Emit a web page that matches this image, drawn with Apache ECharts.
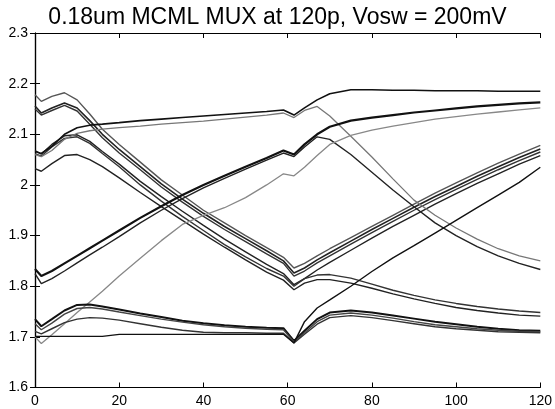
<!DOCTYPE html>
<html>
<head>
<meta charset="utf-8">
<script src="https://cdn.jsdelivr.net/npm/echarts@6/dist/echarts.min.js"></script>
<style>
html, body { margin: 0; padding: 0; background: #fff; }
#main { width: 555px; height: 409px; }
</style>
</head>
<body>
<div id="main"></div>
<script>
// time samples (ps)
var timeX = [0, 1.5, 4, 7, 10, 13, 16, 20, 25, 30, 35, 40, 45, 50, 55, 59, 61.5, 64, 67, 70, 75, 80, 85, 90, 95, 100, 105, 110, 115, 120];

// falling outputs that turn around at 62 and rise again
var t1 = [2.178, 2.165, 2.175, 2.182, 2.168, 2.14, 2.11, 2.08, 2.045, 2.01, 1.98, 1.95, 1.925, 1.9, 1.876, 1.857, 1.836, 1.845, 1.86, 1.874, 1.896, 1.918, 1.94, 1.962, 1.984, 2.004, 2.024, 2.043, 2.061, 2.078];
var t2 = [2.156, 2.142, 2.152, 2.162, 2.152, 2.127, 2.1, 2.07, 2.036, 2.002, 1.972, 1.944, 1.918, 1.894, 1.87, 1.85, 1.826, 1.836, 1.852, 1.866, 1.889, 1.912, 1.934, 1.956, 1.977, 1.997, 2.017, 2.036, 2.054, 2.071];
var t3 = [2.15, 2.138, 2.147, 2.157, 2.146, 2.12, 2.093, 2.063, 2.03, 1.996, 1.966, 1.938, 1.912, 1.888, 1.864, 1.845, 1.82, 1.83, 1.846, 1.86, 1.883, 1.906, 1.928, 1.95, 1.971, 1.991, 2.011, 2.03, 2.048, 2.065];
var t4 = [2.068, 2.061, 2.08, 2.097, 2.099, 2.086, 2.066, 2.041, 2.007, 1.977, 1.948, 1.92, 1.893, 1.868, 1.843, 1.825, 1.803, 1.815, 1.832, 1.847, 1.871, 1.895, 1.918, 1.94, 1.962, 1.983, 2.003, 2.022, 2.041, 2.058];
// falling outputs that keep settling down
var d1 = [2.062, 2.057, 2.075, 2.092, 2.095, 2.082, 2.062, 2.036, 2.0, 1.968, 1.938, 1.91, 1.882, 1.858, 1.835, 1.82, 1.8, 1.815, 1.822, 1.823, 1.816, 1.804, 1.792, 1.782, 1.773, 1.766, 1.76, 1.755, 1.751, 1.748];
var d2 = [2.032, 2.027, 2.042, 2.058, 2.06, 2.05, 2.036, 2.014, 1.985, 1.957, 1.93, 1.903, 1.877, 1.852, 1.828, 1.812, 1.793, 1.806, 1.813, 1.813, 1.806, 1.796, 1.785, 1.775, 1.766, 1.758, 1.752, 1.747, 1.743, 1.741];
// high plateau lines
var p1 = [2.066, 2.062, 2.076, 2.1, 2.113, 2.118, 2.12, 2.123, 2.127, 2.13, 2.133, 2.136, 2.139, 2.142, 2.145, 2.148, 2.138, 2.152, 2.168, 2.18, 2.188, 2.188, 2.187, 2.187, 2.186, 2.186, 2.186, 2.185, 2.185, 2.185];
var p2 = [2.06, 2.056, 2.068, 2.09, 2.102, 2.107, 2.11, 2.113, 2.116, 2.12, 2.123, 2.126, 2.13, 2.134, 2.138, 2.142, 2.133, 2.147, 2.155, 2.136, 2.096, 2.055, 2.012, 1.97, 1.94, 1.915, 1.893, 1.874, 1.86, 1.85];
// rising outputs
var r1 = [1.834, 1.82, 1.83, 1.845, 1.86, 1.875, 1.89, 1.91, 1.935, 1.958, 1.98, 2.0, 2.018, 2.036, 2.053, 2.068, 2.06, 2.08, 2.1, 2.115, 2.127, 2.133, 2.138, 2.143, 2.147, 2.151, 2.155, 2.158, 2.161, 2.163];
var r2 = [1.825, 1.805, 1.815, 1.83, 1.846, 1.862, 1.877, 1.898, 1.925, 1.95, 1.973, 1.994, 2.013, 2.031, 2.049, 2.063, 2.056, 2.075, 2.095, 2.09, 2.06, 2.025, 1.99, 1.957, 1.925, 1.9, 1.878, 1.86, 1.845, 1.833];
var g1 = [1.7, 1.687, 1.704, 1.726, 1.748, 1.769, 1.79, 1.82, 1.855, 1.89, 1.922, 1.94, 1.955, 1.975, 2.0, 2.022, 2.018, 2.035, 2.058, 2.08, 2.098, 2.108, 2.116, 2.123, 2.13, 2.135, 2.14, 2.144, 2.148, 2.152];
// low group
var l1 = [1.735, 1.721, 1.735, 1.752, 1.763, 1.764, 1.76, 1.754, 1.746, 1.739, 1.732, 1.727, 1.723, 1.72, 1.718, 1.717, 1.692, 1.712, 1.735, 1.748, 1.752, 1.748, 1.742, 1.736, 1.73, 1.725, 1.72, 1.716, 1.713, 1.712];
var l2 = [1.726, 1.714, 1.727, 1.745, 1.756, 1.758, 1.755, 1.749, 1.742, 1.735, 1.729, 1.724, 1.72, 1.717, 1.715, 1.714, 1.69, 1.708, 1.73, 1.743, 1.747, 1.743, 1.737, 1.73, 1.724, 1.72, 1.716, 1.713, 1.711, 1.71];
var l3 = [1.711, 1.706, 1.716, 1.728, 1.735, 1.738, 1.737, 1.733, 1.726, 1.719, 1.713, 1.709, 1.708, 1.708, 1.707, 1.707, 1.688, 1.705, 1.725, 1.738, 1.742, 1.738, 1.732, 1.726, 1.72, 1.716, 1.713, 1.71, 1.709, 1.708];
var l4 = [1.701, 1.701, 1.701, 1.701, 1.701, 1.701, 1.701, 1.705, 1.705, 1.705, 1.705, 1.705, 1.705, 1.705, 1.705, 1.705, 1.688, 1.73, 1.757, 1.773, 1.8, 1.829, 1.856, 1.88, 1.905, 1.93, 1.955, 1.98, 2.005, 2.035];

var xTicks = [0, 20, 40, 60, 80, 100, 120];
var yTicks = [1.6, 1.7, 1.8, 1.9, 2.0, 2.1, 2.2, 2.3];

var traces = [
    { y: t1, color: '#555', w: 1.4 },
    { y: t2, color: '#222', w: 1.6 },
    { y: t3, color: '#333', w: 1.4 },
    { y: t4, color: '#222', w: 1.4 },
    { y: d1, color: '#333', w: 1.4 },
    { y: d2, color: '#222', w: 1.4 },
    { y: p1, color: '#111', w: 1.6 },
    { y: p2, color: '#777', w: 1.3 },
    { y: r1, color: '#111', w: 2.2 },
    { y: r2, color: '#222', w: 1.4 },
    { y: g1, color: '#888', w: 1.3 },
    { y: l1, color: '#111', w: 2 },
    { y: l2, color: '#444', w: 1.4 },
    { y: l3, color: '#333', w: 1.4 },
    { y: l4, color: '#111', w: 1.4 }
];

var chart = echarts.init(document.getElementById('main'));

var series = traces.map(function (t) {
    return {
        type: 'line',
        xAxisIndex: 0,
        yAxisIndex: 0,
        showSymbol: false,
        data: timeX.map(function (x, i) { return [x, t.y[i]]; }),
        lineStyle: { color: t.color, width: t.w },
        emphasis: { disabled: true }
    };
});

var tickStyle = { inside: true, length: 5, lineStyle: { color: '#000', width: 1 } };
var lineStyleAxis = { show: true, lineStyle: { color: '#000', width: 1.2 } };

var option = {
    animation: false,
    backgroundColor: '#fff',
    title: {
        text: '0.18um MCML MUX at 120p, Vosw = 200mV',
        left: 'center',
        top: 1,
        textStyle: { fontFamily: 'Liberation Sans', fontSize: 23, fontWeight: 'normal', color: '#000' }
    },
    grid: { left: 35, right: 14.5, top: 33, bottom: 21.5 },
    xAxis: [{
        type: 'value', min: xTicks[0], max: xTicks[xTicks.length - 1], interval: 20,
        axisLine: lineStyleAxis, axisTick: tickStyle, splitLine: { show: false },
        axisLabel: { fontFamily: 'Liberation Sans', fontSize: 14, color: '#000', margin: 7 }
    }, {
        type: 'value', position: 'top', min: 0, max: 120, interval: 20,
        axisLine: lineStyleAxis, axisTick: tickStyle, splitLine: { show: false },
        axisLabel: { show: false }
    }],
    yAxis: [{
        type: 'value', min: yTicks[0], max: yTicks[yTicks.length - 1], interval: 0.1,
        axisLine: lineStyleAxis, axisTick: tickStyle, splitLine: { show: false },
        axisLabel: { fontFamily: 'Liberation Sans', fontSize: 14, color: '#000', margin: 7, padding: [6, 0, 0, 0] }
    }, {
        type: 'value', position: 'right', min: 1.6, max: 2.3, interval: 0.1,
        axisLine: lineStyleAxis, axisTick: tickStyle, splitLine: { show: false },
        axisLabel: { show: false }
    }],
    series: series
};

chart.setOption(option);
</script>
</body>
</html>
